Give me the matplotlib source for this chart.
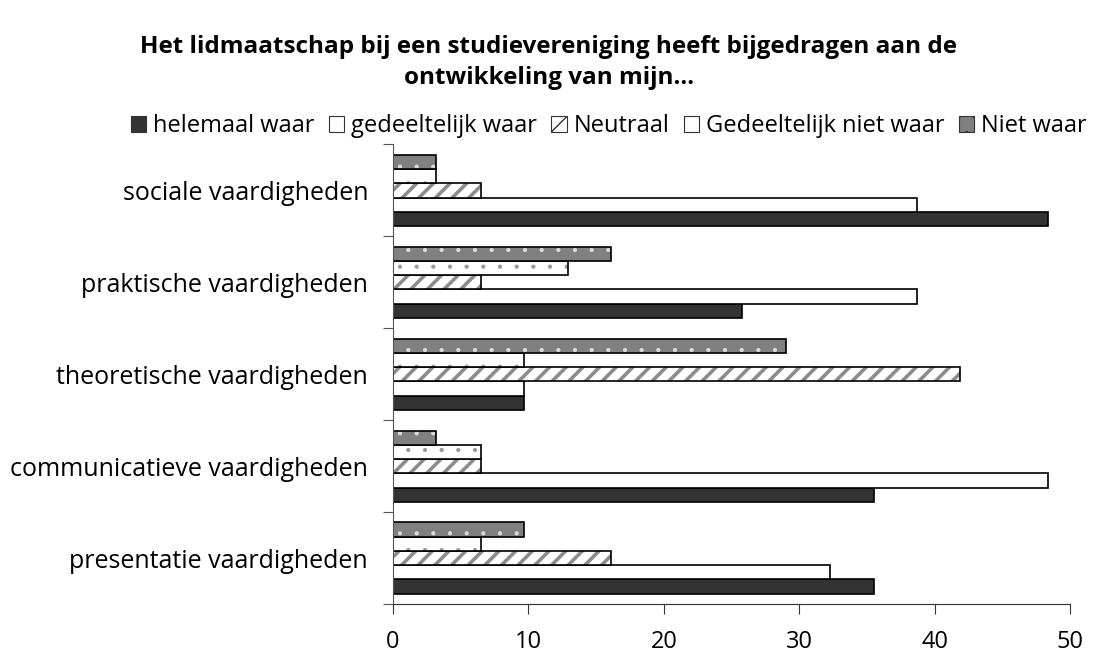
import matplotlib
matplotlib.use("Agg")
import matplotlib.pyplot as plt
from matplotlib.patches import Patch
import numpy as np

# categorieën, van boven naar beneden
categorieen = ["sociale vaardigheden", "praktische vaardigheden", "theoretische vaardigheden",
               "communicatieve vaardigheden", "presentatie vaardigheden"]
reeksen = ["helemaal waar", "gedeeltelijk waar", "Neutraal", "Gedeeltelijk niet waar", "Niet waar"]

helemaal_waar = [48.4, 25.8, 9.7, 35.5, 35.5]
gedeeltelijk_waar = [38.7, 38.7, 9.7, 48.4, 32.3]
neutraal = [6.5, 6.5, 41.9, 6.5, 16.1]
gedeeltelijk_niet_waar = [3.2, 12.9, 9.7, 6.5, 6.5]
niet_waar = [3.2, 16.1, 29.0, 3.2, 9.7]

plt.rcParams['font.family'] = ['Open Sans', 'DejaVu Sans']

fig = plt.figure(figsize=(10.98, 6.68), dpi=100)
ax = fig.add_axes([0.358, 0.0958, 0.6165, 0.688])

n = len(categorieen)
y = np.arange(n)[::-1]  # sociale bovenaan
h = 0.155

stijlen = [
    dict(face="#333333", hatch=None, hcol=None, lw=1),
    dict(face="white", hatch=None, hcol=None, lw=1),
    dict(face="white", hatch="//", hcol="#8c8c8c", lw=2.6),
    dict(face="white", hatch=".", hcol="#999999", lw=0.6),
    dict(face="#808080", hatch=".", hcol="#dcdcdc", lw=0.6),
]
waarden = [helemaal_waar, gedeeltelijk_waar, neutraal, gedeeltelijk_niet_waar, niet_waar]

for j, (vals, st) in enumerate(zip(waarden, stijlen)):
    pos = y + (j - 2) * h
    if st["hatch"]:
        with plt.rc_context({'hatch.linewidth': st["lw"]}):
            ax.barh(pos, vals, height=h, color=st["face"], hatch=st["hatch"],
                    edgecolor=st["hcol"], linewidth=0)
        ax.barh(pos, vals, height=h, facecolor="none", edgecolor="black", linewidth=1.2)
    else:
        ax.barh(pos, vals, height=h, color=st["face"], edgecolor="black", linewidth=1.2)

ax.set_xlim(0, 50)
ax.set_ylim(-0.5, n - 0.5)
ax.set_xticks(np.arange(0, 51, 10))
ax.set_yticks(np.arange(-0.5, n, 1.0))
ax.set_yticklabels([])
ax.set_yticks(y, minor=True)
ax.set_yticklabels(categorieen, minor=True, fontsize=18)
ax.tick_params(axis='y', which='minor', length=0, pad=18)
ax.tick_params(axis='y', which='major', length=7, direction='out', color="#555555")
ax.tick_params(axis='x', length=7, direction='out', labelsize=17, pad=12, color="#333333")
for s in ["top", "right"]:
    ax.spines[s].set_visible(False)
ax.spines["left"].set_color("#555555")
ax.spines["bottom"].set_color("#333333")

handles = []
for naam, st in zip(reeksen, stijlen):
    with plt.rc_context({'hatch.linewidth': 0.8}):
        handles.append(Patch(facecolor=st["face"], edgecolor="#333333",
                             hatch=None if st["hatch"] == "." and st["face"] == "white" else st["hatch"],
                             linewidth=0.8))
leg = fig.legend(handles, reeksen, loc="center right", bbox_to_anchor=(1.003, 0.811), ncol=5,
                 frameon=False, fontsize=17, handlelength=0.65, handleheight=0.65,
                 handletextpad=0.3, columnspacing=0.6, borderpad=0.1)

fig.text(0.5, 0.906, "Het lidmaatschap bij een studievereniging heeft bijgedragen aan de\nontwikkeling van mijn...",
         ha="center", va="center", fontsize=17.5, fontweight="bold", linespacing=1.4)

fig.savefig("out.png", dpi=100)
